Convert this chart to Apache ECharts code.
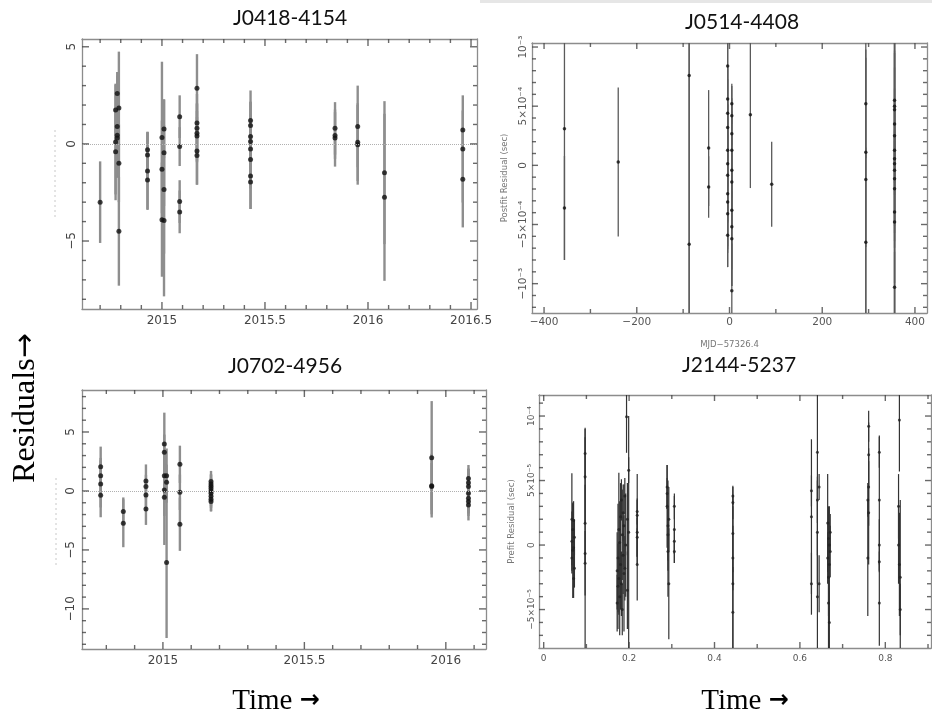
<!DOCTYPE html>
<html><head><meta charset="utf-8">
<script src="https://cdn.jsdelivr.net/npm/echarts@6/dist/echarts.min.js"></script>
<style>html,body{margin:0;padding:0;background:#fff}#c{width:932px;height:719px}</style>
</head><body><div id="c"></div>
<script>
// ---------- Panel 1: J0418-4154 (year, residual, error) ----------
var p1Year = [2014.70,
  2014.775,2014.775,2014.775,
  2014.783,2014.783,2014.783,2014.783,
  2014.791,2014.791,2014.791,
  2014.93,2014.93,2014.93,2014.93,
  2015.0,2015.0,2015.0,
  2015.01,2015.01,2015.01,2015.01,
  2015.086,2015.086,2015.086,2015.086,
  2015.17,2015.17,2015.17,2015.17,2015.17,2015.17,2015.17,
  2015.43,2015.43,2015.43,2015.43,2015.43,2015.43,2015.43,2015.43,
  2015.84,2015.84,2015.84,
  2015.95,2015.95,2015.95,
  2016.08,2016.08,
  2016.46,2016.46,2016.46];
var p1Res = [-3.0,
  1.75,0.1,-0.4,
  2.6,0.9,0.45,0.3,
  1.85,-1.0,-4.5,
  -0.3,-0.57,-1.4,-1.86,
  0.33,-1.3,-3.9,
  0.77,-0.45,-2.35,-3.95,
  1.4,-0.14,-2.97,-3.5,
  2.87,1.07,0.8,0.55,0.4,-0.36,-0.6,
  1.2,0.95,0.38,0.12,-0.26,-0.8,-1.65,-1.96,
  0.8,0.43,0.3,
  0.9,0.09,-0.05,
  -1.48,-2.75,
  0.72,-0.26,-1.82];
var p1Err = [2.1,
  1.3,3.0,2.2,
  1.1,2.6,2.2,2.0,
  2.9,2.0,2.8,
  0.9,1.2,2.0,1.5,
  3.9,2.5,2.94,
  1.5,2.75,3.3,3.9,
  1.1,1.0,1.1,1.1,
  1.75,1.5,1.3,1.5,1.3,1.74,1.5,
  1.55,1.2,1.8,1.4,1.6,1.5,1.7,1.39,
  1.35,1.2,1.47,
  2.1,2.0,2.05,
  3.68,4.3,
  1.0,2.76,2.48];
var p1XMajor = [2015, 2015.5, 2016, 2016.5];
var p1XMinor = [2014.7,2014.8,2014.9,2015.1,2015.2,2015.3,2015.4,2015.6,2015.7,2015.8,2015.9,2016.1,2016.2,2016.3,2016.4];
var p1YMajor = [-5, 0, 5];
var p1YMinor = [-8,-7,-6,-4,-3,-2,-1,1,2,3,4];

// ---------- Panel 2: J0514-4408 (MJD-57326.4, postfit residual in 1e-4 s, error in 1e-4 s) ----------
var p2Mjd = [-356,-356, -240, -87,-87, -45,-45,
  -4,-4,-4,-4,-4,-4,-4,-4,-4,-4,-4,
  5,5,5,5,5,5,5,5,5,5,
  45, 91,
  294,294,294,294,
  356,356,356,356,356,356,356,356,356,356,356,356,356,356];
var p2Res = [3.1,-3.6, 0.28, 7.6,-6.67, 1.46,-1.83,
  8.4,5.6,4.4,3.2,1.27,0.14,-0.84,-2.4,-3.1,-4.1,-5.9,
  5.2,4.2,2.67,1.27,-0.42,-1.4,-3.8,-5.2,-6.2,-10.6,
  4.28, -1.6,
  5.2,1.1,-1.2,-6.5,
  5.5,5.0,4.7,3.5,2.5,1.27,0.56,0.14,-0.42,-1.13,-1.97,-3.94,-4.78,-10.3];
var p2Err = [11.1,4.4, 6.3, 22,20, 4.9,2.6,
  12,5,4,5,6,5,6,5,4,4.5,2.7,
  1.7,2.5,3,4,5,4,5,5,4,4,
  6.2, 3.6,
  4.6,8,12,8,
  6,20,5,6,4,7,15,5,6,4,5,6,20,3];
var p2XMajor = [-400,-200,0,200,400];
var p2XMinor = [-300,-100,100,300];
var p2YMajor = [-10,-5,0,5,10];
var p2YLabels = ['\u221210\u207B\u00B3','\u22125\u00D710\u207B\u2074','0','5\u00D710\u207B\u2074','10\u207B\u00B3'];
var p2YMinor = [-12,-11,-9,-8,-7,-6,-4,-3,-2,-1,1,2,3,4,6,7,8,9];

// ---------- Panel 3: J0702-4956 ----------
var p3Year = [2014.78,2014.78,2014.78,2014.78,
  2014.86,2014.86,
  2014.94,2014.94,2014.94,2014.94,
  2015.005,2015.005,2015.005,2015.005,2015.005,
  2015.013,2015.013,2015.013,
  2015.06,2015.06,2015.06,
  2015.17,2015.17,2015.17,2015.17,2015.17,2015.17,2015.17,2015.17,2015.17,
  2015.95,2015.95,2015.95,
  2016.08,2016.08,2016.08,2016.08,2016.08,2016.08,2016.08];
var p3Res = [2.06,1.3,0.6,-0.37,
  -1.75,-2.74,
  0.85,0.37,-0.34,-1.53,
  3.98,3.28,0.08,-0.54,1.3,
  1.3,0.73,-6.07,
  2.26,-0.11,-2.82,
  0.8,0.6,0.4,0.2,0.0,-0.2,-0.45,-0.7,-0.9,
  2.82,0.45,0.37,
  1.05,0.37,-0.2,-0.62,-1.19,0.7,-0.9];
var p3Err = [1.7,1.5,2.0,1.86,
  1.2,2.03,
  1.4,1.0,1.2,1.35,
  2.66,1.5,2.2,4.04,2.0,
  2.3,1.5,6.4,
  1.58,1.5,2.26,
  0.9,0.8,1.0,0.9,1.0,1.1,1.0,1.05,0.8,
  4.8,2.7,2.0,
  1.15,1.5,1.7,1.5,1.31,1.2,1.0];
var p3XMajor = [2015, 2015.5, 2016];
var p3XMinor = [2014.8,2014.9,2015.1,2015.2,2015.3,2015.4,2015.6,2015.7,2015.8,2015.9,2016.1];
var p3YMajor = [-10,-5,0,5];
var p3YMinor = [-13,-12,-11,-9,-8,-7,-6,-4,-3,-2,-1,1,2,3,4,6,7,8];

// ---------- Panel 4: J2144-5237 (phase, prefit residual in 1e-5 s, error in 1e-5 s) ----------
var p4X = [0.066,0.066,0.068,0.068,0.070,0.070,0.072,0.072,0.066,0.070,
  0.097,0.097,0.097,0.097,0.097,
  0.172,0.172,0.174,0.174,0.176,0.176,0.178,0.178,0.180,0.180,0.182,0.182,0.184,0.184,0.186,0.186,0.188,0.188,0.190,0.190,0.192,0.194,0.196,0.196,0.199,0.199,
  0.219,0.219,0.219,0.219,0.219,
  0.289,0.289,0.291,0.291,0.293,0.293,0.289,0.291,
  0.306,0.306,0.306,0.306,
  0.443,0.443,0.443,0.443,0.443,0.443,
  0.627,0.627,0.627,
  0.641,0.641,0.641,0.641,0.645,0.645,
  0.665,0.665,0.667,0.667,0.669,0.669,0.671,0.671,0.667,0.669,
  0.761,0.761,0.761,0.761,0.759,0.759,
  0.786,0.786,0.786,0.786,0.786,
  0.833,0.831,0.831,0.833,0.835,0.835];
var p4Res = [2.0,0.3,-0.4,1.2,-0.2,1.9,-1.8,0.6,-1.0,-2.6,
  5.3,-0.65,1.68,7.1,-1.42,
  -2.0,-4.5,-1.0,-3.2,1.2,-2.6,0.2,-4.0,2.2,-1.5,3.5,-3.0,0.8,-5.0,2.5,-0.8,1.5,-2.2,3.8,-1.8,0.0,9.95,2.0,-3.5,1.0,5.8,
  2.3,1.0,-1.5,0.6,2.6,
  4.5,3.0,1.5,-0.5,2.0,-3.0,4.0,0.8,
  1.2,3.0,0.3,-0.5,
  3.3,0.9,-1.0,-3.0,3.8,-5.2,
  2.2,-3.0,4.2,
  7.2,3.5,1.0,-4.0,4.5,-3.0,
  1.7,-1.0,0.5,-2.5,0.0,-1.5,1.0,-0.5,-4.5,-6.0,
  9.2,7.0,4.5,2.5,-1.0,3.5,
  7.2,3.5,0.0,-1.3,-4.5,
  9.7,3.0,0.0,-1.5,-2.5,-5.0];
var p4Err = [3.56,2.3,3.7,2.0,1.8,1.5,1.5,1.4,1.2,1.5,
  3.7,9,3,2,2.5,
  3.0,2.2,4.2,3.3,4.4,2.8,3.2,3.0,2.6,3.5,1.6,2.5,3.5,2.0,2.2,3.0,3.2,4.5,1.4,2.5,4.0,2.8,2.8,3.0,9,1.0,
  3.2,2.5,2.8,1.5,1.0,
  1.7,3.2,3.5,3.5,2.5,4.3,1.2,2.0,
  2.6,1.0,1.0,0.9,
  1.3,3.0,2.5,6,0.7,3.5,
  6,2.4,1.2,
  8,1.8,4,5,1.0,2.2,
  3.8,2.0,2.5,3,1.8,4.5,1.4,2.0,3.5,2.5,
  1.2,2.5,3.0,4.0,4.5,1.3,
  1.2,5,2.0,0.8,3.3,
  4,2.5,3,4.0,6,2.0];
var p4XMajor = [0,0.2,0.4,0.6,0.8];
var p4XMinor = [0.1,0.3,0.5,0.7,0.9];
var p4YMajor = [-5,0,5,10];
var p4YLabels = ['\u22125\u00D710\u207B\u2075','0','5\u00D710\u207B\u2075','10\u207B\u2074'];
var p4YMinor = [-7,-6,-4,-3,-2,-1,1,2,3,4,6,7,8,9,11];

// ---------- helpers ----------
function zip3(a, b, c) { return a.map(function (v, i) { return [v, b[i], c[i]]; }); }
function zip2(a, b) { return a.map(function (v, i) { return [v, b[i]]; }); }
function minusFmt(v) { var s = String(Math.round(v * 1000) / 1000); return s.replace('-', '\u2212'); }
function lookupFmt(vals, texts) {
  return function (v) { for (var i = 0; i < vals.length; i++) { if (Math.abs(v - vals[i]) < 1e-9) return texts[i]; } return ''; };
}

// two axes per dimension per grid: main (with labels) and opposite (box side)
function buildAxes(dim, g, min, max, majors, fmt, lab, extra) {
  var pos = dim === 'x' ? ['bottom', 'top'] : ['left', 'right'];
  var list = [];
  for (var s = 0; s < 2; s++) {
    var ax = {
      type: 'value', gridIndex: g, position: pos[s], min: min, max: max,
      splitLine: { show: false },
      axisLine: { show: true, onZero: false, lineStyle: { color: '#8c8c8c', width: 1.3 } },
      axisTick: { show: false },
      axisLabel: s === 0 ? Object.assign({ show: true, customValues: majors, formatter: fmt }, lab) : { show: false }
    };
    if (s === 0 && extra) Object.assign(ax, extra);
    list.push(ax);
  }
  return list;
}

// inward tick marks drawn as thin rect symbols sitting on the box edges
function tickMarks(g, xr, yr, xMaj, xMin, yMaj, yMin, majLen, minLen) {
  var out = [];
  function add(data, size, offset) {
    out.push({
      type: 'scatter', xAxisIndex: 2 * g, yAxisIndex: 2 * g, data: data, clip: false, z: 6,
      symbol: 'rect', symbolSize: size, symbolOffset: offset,
      itemStyle: { color: '#444' }, silent: true
    });
  }
  [[xMaj, majLen], [xMin, minLen]].forEach(function (pair) {
    var vals = pair[0], L = pair[1];
    add(vals.map(function (v) { return [v, yr[0]]; }), [1.4, L], [0, -L / 2]);
    add(vals.map(function (v) { return [v, yr[1]]; }), [1.4, L], [0, L / 2]);
  });
  [[yMaj, majLen], [yMin, minLen]].forEach(function (pair) {
    var vals = pair[0], L = pair[1];
    add(vals.map(function (v) { return [xr[0], v]; }), [L, 1.4], [L / 2, 0]);
    add(vals.map(function (v) { return [xr[1], v]; }), [L, 1.4], [-L / 2, 0]);
  });
  return out;
}

function errSeries(g, data, color, width) {
  return {
    type: 'custom', xAxisIndex: 2 * g, yAxisIndex: 2 * g, data: data, z: 2,
    encode: { x: 0, y: 1 },
    renderItem: function (params, api) {
      var x = api.value(0), y = api.value(1), e = api.value(2);
      var p1 = api.coord([x, y + e]), p2 = api.coord([x, y - e]);
      var cs = params.coordSys;
      var top = cs.y, bot = cs.y + cs.height;
      var y1 = Math.max(top, Math.min(bot, p1[1]));
      var y2 = Math.max(top, Math.min(bot, p2[1]));
      return { type: 'line', shape: { x1: p1[0], y1: y1, x2: p2[0], y2: y2 }, style: { stroke: color, lineWidth: width } };
    }
  };
}
function dotSeries(g, data, size, color, zeroLine) {
  var s = {
    type: 'scatter', xAxisIndex: 2 * g, yAxisIndex: 2 * g, data: data, symbolSize: size, z: 3,
    itemStyle: { color: color }
  };
  if (zeroLine) {
    s.markLine = { silent: true, symbol: 'none', label: { show: false },
      lineStyle: { color: '#b0b0b0', type: 'dotted', width: 1 }, data: [{ yAxis: 0 }] };
  }
  return s;
}

var labBig = { color: '#444', fontFamily: 'DejaVu Sans', fontSize: 12 };
var labMid = { color: '#555', fontFamily: 'DejaVu Sans', fontSize: 10.5 };
var labSmall = { color: '#555', fontFamily: 'DejaVu Sans', fontSize: 9 };
var nameStyle = { color: '#777', fontFamily: 'DejaVu Sans', fontSize: 8.5 };

var P1X = [2014.612, 2016.529], P1Y = [-8.5, 5.4];
var P2X = [-426, 426], P2Y = [-12.48, 10.34];
var P3X = [2014.714, 2016.142], P3Y = [-13.4, 8.56];
var P4X = [-0.011, 0.907], P4Y = [-7.98, 11.63];

var xAxes = [].concat(
  buildAxes('x', 0, P1X[0], P1X[1], p1XMajor, minusFmt, Object.assign({ margin: 6 }, labBig)),
  buildAxes('x', 1, P2X[0], P2X[1], p2XMajor, minusFmt, Object.assign({ margin: 4 }, labMid),
    { name: 'MJD\u221257326.4', nameLocation: 'middle', nameGap: 27, nameTextStyle: nameStyle }),
  buildAxes('x', 2, P3X[0], P3X[1], p3XMajor, minusFmt, Object.assign({ margin: 6 }, labBig)),
  buildAxes('x', 3, P4X[0], P4X[1], p4XMajor, minusFmt, Object.assign({ margin: 6 }, labSmall))
);
var yAxes = [].concat(
  buildAxes('y', 0, P1Y[0], P1Y[1], p1YMajor, minusFmt, Object.assign({ margin: 4, rotate: 90 }, labBig)),
  buildAxes('y', 1, P2Y[0], P2Y[1], p2YMajor, lookupFmt(p2YMajor, p2YLabels), Object.assign({ margin: 3, rotate: 90 }, labMid),
    { name: 'Postfit Residual (sec)', nameLocation: 'middle', nameGap: 23, nameTextStyle: nameStyle }),
  buildAxes('y', 2, P3Y[0], P3Y[1], p3YMajor, minusFmt, Object.assign({ margin: 5, rotate: 90 }, labBig)),
  buildAxes('y', 3, P4Y[0], P4Y[1], p4YMajor, lookupFmt(p4YMajor, p4YLabels), Object.assign({ margin: 3, rotate: 90 }, labSmall),
    { name: 'Prefit Residual (sec)', nameLocation: 'middle', nameGap: 23, nameTextStyle: nameStyle })
);

var series = [].concat(
  [errSeries(0, zip3(p1Year, p1Res, p1Err), '#8e8e8e', 2.4),
   dotSeries(0, zip2(p1Year, p1Res), 5, '#111', true)],
  tickMarks(0, P1X, P1Y, p1XMajor, p1XMinor, p1YMajor, p1YMinor, 7, 4),
  [errSeries(1, zip3(p2Mjd, p2Res, p2Err), '#5a5a5a', 1.3),
   dotSeries(1, zip2(p2Mjd, p2Res), 3.5, '#111', false)],
  tickMarks(1, P2X, P2Y, p2XMajor, p2XMinor, p2YMajor, p2YMinor, 6, 4),
  [errSeries(2, zip3(p3Year, p3Res, p3Err), '#8e8e8e', 2.4),
   dotSeries(2, zip2(p3Year, p3Res), 5, '#111', true)],
  tickMarks(2, P3X, P3Y, p3XMajor, p3XMinor, p3YMajor, p3YMinor, 7, 4),
  [errSeries(3, zip3(p4X, p4Res, p4Err), '#333', 1.2),
   dotSeries(3, zip2(p4X, p4Res), 3, '#222', false)],
  tickMarks(3, P4X, P4Y, p4XMajor, p4XMinor, p4YMajor, p4YMinor, 6, 4)
);

var titleFont = '21px Lato, "Open Sans", sans-serif';
var option = {
  animation: false,
  backgroundColor: '#fff',
  grid: [
    { left: 82, top: 39, width: 395, height: 270 },
    { left: 532, top: 43, width: 395, height: 270 },
    { left: 82, top: 390, width: 404, height: 259 },
    { left: 539, top: 395, width: 392, height: 253 }
  ],
  xAxis: xAxes,
  yAxis: yAxes,
  series: series,
  graphic: [
    { type: 'rect', shape: { x: 480, y: 0, width: 452, height: 3 }, style: { fill: '#e6e6e6' } },
    { type: 'line', shape: { x1: 55, y1: 130, x2: 55, y2: 220 }, style: { stroke: '#c8c8c8', lineWidth: 1, lineDash: [2, 3] } },
    { type: 'line', shape: { x1: 56, y1: 478, x2: 56, y2: 566 }, style: { stroke: '#c8c8c8', lineWidth: 1, lineDash: [2, 3] } },
    { type: 'text', x: 290, y: 18, style: { text: 'J0418-4154', font: titleFont, fill: '#111', align: 'center', verticalAlign: 'middle' } },
    { type: 'text', x: 742, y: 22, style: { text: 'J0514-4408', font: titleFont, fill: '#111', align: 'center', verticalAlign: 'middle' } },
    { type: 'text', x: 285, y: 366, style: { text: 'J0702-4956', font: titleFont, fill: '#111', align: 'center', verticalAlign: 'middle' } },
    { type: 'text', x: 739, y: 365, style: { text: 'J2144-5237', font: titleFont, fill: '#111', align: 'center', verticalAlign: 'middle' } },
    { type: 'text', x: 26, y: 408, rotation: Math.PI / 2, style: {
      text: '{a|Residuals}{b|\u2192}', align: 'center', verticalAlign: 'middle',
      rich: { a: { font: '32px "Liberation Serif", serif', fill: '#000' },
              b: { font: '30px "DejaVu Sans", sans-serif', fill: '#000' } } } },
    { type: 'text', x: 276, y: 701, style: {
      text: '{a|Time }{b|\u2192}', align: 'center', verticalAlign: 'middle',
      rich: { a: { font: '29px "Liberation Serif", serif', fill: '#000' },
              b: { font: 'bold 24px "DejaVu Sans", sans-serif', fill: '#000' } } } },
    { type: 'text', x: 745, y: 701, style: {
      text: '{a|Time }{b|\u2192}', align: 'center', verticalAlign: 'middle',
      rich: { a: { font: '29px "Liberation Serif", serif', fill: '#000' },
              b: { font: 'bold 24px "DejaVu Sans", sans-serif', fill: '#000' } } } }
  ]
};
var chart = echarts.init(document.getElementById('c'), null, { renderer: 'canvas' });
chart.setOption(option);
</script></body></html>
